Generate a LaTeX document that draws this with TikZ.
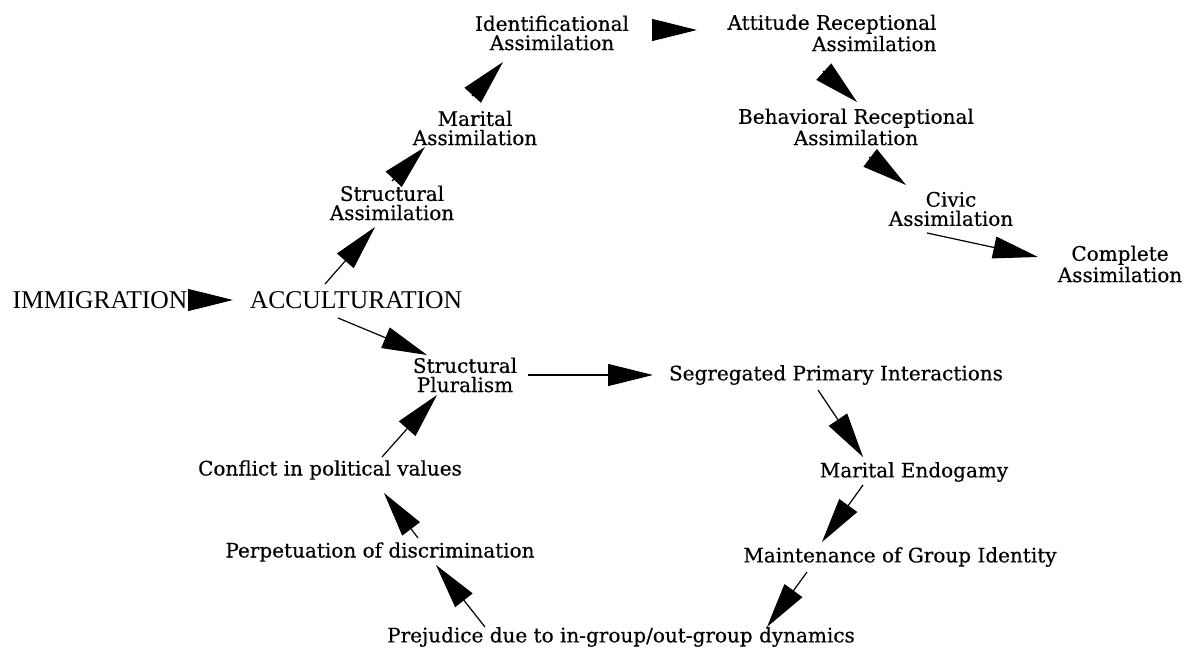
\documentclass[tikz,border=0pt]{standalone}
\usepackage{fontspec}
\setmainfont{DejaVu Serif}
\newfontfamily\lblfont[FakeBold=0.4]{DejaVu Serif}
\newfontfamily\capsfont{Liberation Serif}
\usetikzlibrary{arrows.meta}
\begin{document}
\begin{tikzpicture}[x=0.5pt,y=-0.5pt,
  lbl/.style={font=\lblfont\fontsize{10}{9.6}\selectfont, align=center, inner sep=0pt},
  big/.style={font=\capsfont\fontsize{12.8}{14}\selectfont, inner sep=0pt},
  arr/.style={line width=0.6pt, -{Triangle[length=22.5pt,width=11pt]}}]
\useasboundingbox[fill=white] (0,0) rectangle (1186,647);

\node[big] (imm) at (100,300) {IMMIGRATION};
\node[big] (acc) at (356,300) {ACCULTURATION};
\node[lbl] (sa) at (392,203) {Structural\\Assimilation};
\node[lbl] (ma) at (475,128) {Marital\\Assimilation};
\node[lbl] (ia) at (552,33) {Identificational\\Assimilation};
\node[lbl,align=right] (ara) at (832,33) {Attitude Receptional\\Assimilation};
\node[lbl] (bra) at (856,127) {Behavioral Receptional\\Assimilation};
\node[lbl] (ca) at (951,209) {Civic\\Assimilation};
\node[lbl] (cpa) at (1120,264) {Complete\\Assimilation};
\node[lbl] (sp) at (465,375) {Structural\\Pluralism};
\node[lbl] (spi) at (836,375) {Segregated Primary Interactions};
\node[lbl] (me) at (914,472) {Marital Endogamy};
\node[lbl] (mgi) at (900,557) {Maintenance of Group Identity};
\node[lbl] (prej) at (621,637) {Prejudice due to in-group/out-group dynamics};
\node[lbl] (perp) at (380,552) {Perpetuation of discrimination};
\node[lbl] (conf) at (330,470) {Conflict in political values};

\draw[arr] ([shift={(88,0)}]imm.center) -- ([shift={(-123,0)}]acc.center);
\draw[arr] ([shift={(-31,-16)}]acc.center) -- ([shift={(-17,24)}]sa.center);
\draw[arr] ([shift={(-18,18)}]acc.center) -- ([shift={(-38,-20)}]sp.center);
\draw[arr] ([shift={(0,-22)}]sa.center) -- ([shift={(-50,19)}]ma.center);
\draw[arr] ([shift={(-3,-32)}]ma.center) -- ([shift={(-49,29)}]ia.center);
\draw[arr] ([shift={(100,-3)}]ia.center) -- ([shift={(-135,-3)}]ara.center);
\draw[arr] ([shift={(-9,38)}]ara.center) -- ([shift={(1,-25)}]bra.center);
\draw[arr] ([shift={(13,30)}]bra.center) -- ([shift={(-45,-24)}]ca.center);
\draw[arr] ([shift={(-24,24)}]ca.center) -- ([shift={(-82,-7)}]cpa.center);
\draw[arr] ([shift={(63,0)}]sp.center) -- ([shift={(-183,0)}]spi.center);
\draw[arr] ([shift={(-18,15)}]spi.center) -- ([shift={(-51,-15)}]me.center);
\draw[arr] ([shift={(-51,13)}]me.center) -- ([shift={(-78,-15)}]mgi.center);
\draw[arr] ([shift={(-93,15)}]mgi.center) -- ([shift={(146,-10)}]prej.center);
\draw[arr] ([shift={(-136,-10)}]prej.center) -- ([shift={(56,13)}]perp.center);
\draw[arr] ([shift={(38,-14)}]perp.center) -- ([shift={(54,23)}]conf.center);
\draw[arr] ([shift={(52,-13)}]conf.center) -- ([shift={(-28,20)}]sp.center);
\end{tikzpicture}
\end{document}
